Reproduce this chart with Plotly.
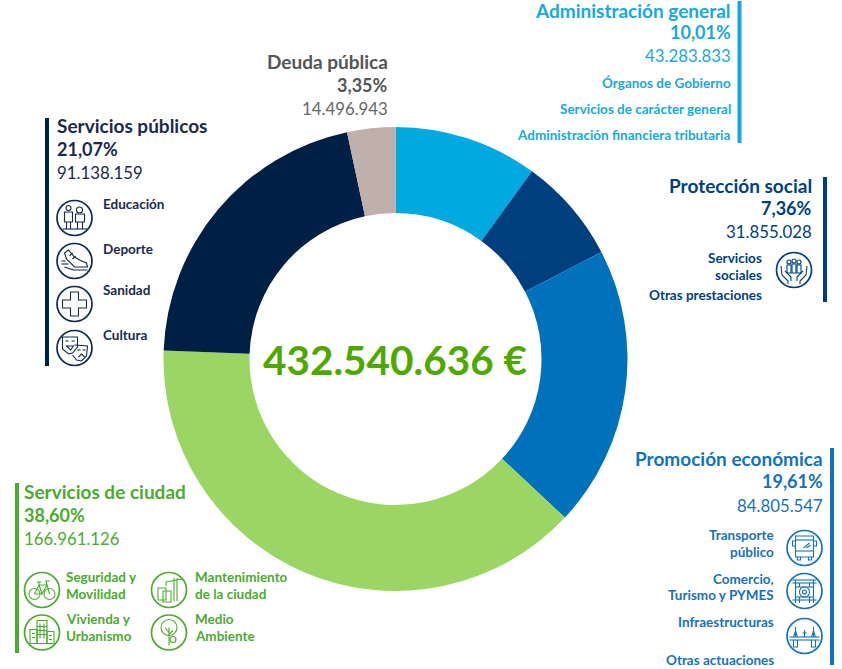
"""Distribución del presupuesto por áreas de gasto — donut con bloques de texto e iconos."""
from plotly import graph_objects as go

W, H = 842, 669
FONT = "Lato"

areas = ["Administración general", "Protección social", "Promoción económica",
         "Servicios de ciudad", "Servicios públicos", "Deuda pública"]
importes = [43283833, 31855028, 84805547, 166961126, 91138159, 14496943]
importes_txt = ["43.283.833", "31.855.028", "84.805.547", "166.961.126", "91.138.159", "14.496.943"]
porcentajes = ["10,01%", "7,36%", "19,61%", "38,60%", "21,07%", "3,35%"]
colores_sector = ["#00a9e0", "#003f7d", "#0072bc", "#9bd564", "#001f45", "#bfb0ac"]
colores_texto = ["#1aa7dc", "#003f7d", "#1672b8", "#4aab2f", "#1b2a4a", "#555555"]
total_txt = "432.540.636 €"

CX, CY, R_EXT, R_INT = 395.5, 359, 232, 146
T_CAB, T_IMP, T_SUB = 19, 16.8, 13.5

fig = go.Figure()
fig.add_trace(go.Pie(
    labels=areas, values=importes, sort=False, direction="clockwise", rotation=0,
    hole=R_INT / R_EXT, textinfo="none", hoverinfo="label+value+percent", showlegend=False,
    marker=dict(colors=colores_sector, line=dict(width=0)),
    domain=dict(x=[(CX - R_EXT) / W, (CX + R_EXT) / W], y=[1 - (CY + R_EXT) / H, 1 - (CY - R_EXT) / H]),
))

annotations, shapes = [], []


def txt(x, y, s, color, size=T_SUB, bold=False, anchor="left"):
    annotations.append(dict(x=x, y=y, text=f"<b>{s}</b>" if bold else s, showarrow=False, xref="x", yref="y",
                            xanchor=anchor, yanchor="middle", borderpad=0,
                            font=dict(family=FONT, size=size, color=color)))


def bloque(i, x, ys, anchor):
    txt(x, ys[0], areas[i], colores_texto[i], T_CAB, True, anchor)
    txt(x, ys[1], porcentajes[i], colores_texto[i], 18, True, anchor)
    txt(x, ys[2], importes_txt[i], colores_texto[i], T_IMP, False, anchor)


def barra(x, y0, y1, color):
    shapes.append(dict(type="rect", xref="x", yref="y", x0=x - 2, x1=x + 2, y0=y0, y1=y1,
                       fillcolor=color, line=dict(width=0)))


def circulo(cx, cy, r, color, ancho):
    shapes.append(dict(type="circle", xref="x", yref="y", x0=cx - r, x1=cx + r, y0=cy - r, y1=cy + r,
                       line=dict(color=color, width=ancho)))


def icono(cx, cy, color, trazos):
    # circulo exterior + dibujo simplificado, coordenadas relativas al centro
    circulo(cx, cy, 17.5, color, 1.7)
    for t in trazos:
        if isinstance(t, tuple):
            circulo(cx + t[0], cy + t[1], t[2], color, 1.1)
            continue
        partes = []
        for tok in t.split():
            if "," in tok:
                a, b = tok.split(",")
                partes.append(f"{cx + float(a)},{cy + float(b)}")
            else:
                partes.append(tok)
        shapes.append(dict(type="path", xref="x", yref="y", path=" ".join(partes), line=dict(color=color, width=1.1)))


MANOS = ["M -13,-4 L -12,5 L -6,11 L -6,14", "M 13,-4 L 12,5 L 6,11 L 6,14", "M -9,1 L -3,7 L -3,11", "M 9,1 L 3,7 L 3,11",
         (-5, -8, 2), (0, -9, 2), (5, -8, 2), "M -7,-5 L -7,3 L -3,3 L -3,-5 Z", "M -2,-6 L -2,3 L 2,3 L 2,-6 Z", "M 3,-5 L 3,3 L 7,3 L 7,-5 Z"]
BUS = ["M -9,-12 L 9,-12 L 9,9 L -9,9 Z", "M -9,-8 L 9,-8", "M -9,3 L 9,3", "M -7,9 L -7,12 L -4,12 L -4,9", "M 4,9 L 4,12 L 7,12 L 7,9",
       "M -9,-7 L -12,-7 L -12,-2 L -9,-2", "M 9,-7 L 12,-7 L 12,-2 L 9,-2", "M -1,0 L 5,-5", "M 2,0 L 6,-3"]
COMERCIO = ["M -12,-11 L 12,-11", "M -12,-8 L 12,-8", "M -9,-11 L -9,12", "M 9,-11 L 9,12", "M -12,9 L 12,9", "M -9,-4 L 9,-4", "M -9,6 L 9,6",
            (0, 1, 5), (0, 1, 2), "M -5,-8 L -5,-4", "M 5,-8 L 5,-4", "M -5,6 L -5,12", "M 5,6 L 5,12"]
PUENTE = ["M -15,1 L 15,1", "M -15,4 L 15,4", "M -9,-9 L -9,1", "M 9,-9 L 9,1", "M -11,1 L -9,-5 L -7,1", "M 7,1 L 9,-5 L 11,1",
          "M -11,4 L -11,11 L -7,11 L -7,4", "M 7,4 L 7,11 L 11,11 L 11,4", "M 0,-6 L 0,1", "M -2,-3 L 2,-3"]
BICI = [(-7.5, 4, 5.5), (7.5, 4, 5.5), "M -7.5,4 L -3,-5 L 5,-5 L 7.5,4", "M -7.5,4 L 0,4 L 5,-5", "M -3,-5 L 0,4",
        "M -5,-8 L -1,-8", "M -3,-8 L -3,-5", "M 5,-5 L 4,-9 L 8,-9"]
CIUDAD = ["M -5,-12 L 5,-12 L 5,11 L -5,11 Z", "M -12,-3 L -5,-3 L -5,11 L -12,11 Z", "M 5,-1 L 12,-1 L 12,11 L 5,11 Z",
          "M -2,-9 L -2,6", "M 2,-9 L 2,6", "M -5,-6 L 5,-6", "M -5,-2 L 5,-2", "M -5,2 L 5,2", "M -10,1 L -7,1", "M -10,5 L -7,5", "M 7,3 L 10,3", "M 7,7 L 10,7"]
OBRA = ["M -3,-8 L 13,-11", "M 5,-12 L 5,11", "M 8,-12 L 8,11", "M -3,-8 L -3,-4", "M -11,-2 L -3,-2 L -3,10 L -11,10 Z", "M -6,1 L 2,1 L 2,12 L -6,12 Z"]
ARBOL = [(0, -5, 8), "M 0,-5 L 0,13", "M 0,0 L -4,-5", "M 0,2 L 4,-2", (4, 7, 3)]
ESTUDIANTES = [(-6, -10, 2.5), "M -10,-6 L -2,-6 L -2,4 L -10,4 Z", "M -8,4 L -8,11", "M -4,4 L -4,11",
               (5, -8, 3), "M 1,-4 L 10,-4 L 10,4 L 1,4 Z", "M 3,4 L 3,11", "M 8,4 L 8,11", "M -12,11 L 13,11"]
ZAPATILLA = ["M -10,-8 L -6,-11 L 0,-4 L 5,-1 L 12,2 L 13,6 L 0,6 L -8,-2 Z", "M -13,3 L -6,3", "M -13,0 L -9,0", "M -10,6 L -1,9 L 13,9", "M -5,-5 L -2,-8", "M -2,-2 L 1,-5"]
CRUZ = ["M -4,-12 L 4,-12 L 4,-4 L 12,-4 L 12,4 L 4,4 L 4,12 L -4,12 L -4,4 L -12,4 L -12,-4 L -4,-4 Z"]
MASCARAS = ["M -12,-11 L 3,-11 L 3,-1 L -2,5 L -6,6 L -12,1 Z", "M 0,-3 L 13,-2 L 12,8 L 7,13 L 2,12 L -2,7", "M -9,-7 L -6,-7", "M -3,-7 L 0,-7",
            "M -8,-2 L -1,-2 L -4,2 Z", "M 3,2 L 6,2", "M 8,2 L 11,2", "M 4,9 L 7,6 L 10,9"]

# Administración general
i = 0
bloque(i, 732, [10, 31.5, 55], "right")
for y, s in zip([83, 109, 135], ["Órganos de Gobierno", "Servicios de carácter general", "Administración financiera tributaria"]):
    txt(732, y, s, colores_texto[i], T_SUB, True, "right")
barra(739.5, 1, 143, colores_texto[i])

# Protección social
i = 1
bloque(i, 813, [185, 207.5, 231], "right")
for y, s in zip([258, 275, 295], ["Servicios", "sociales", "Otras prestaciones"]):
    txt(763, y, s, colores_texto[i], T_SUB, True, "right")
barra(825, 177, 302, colores_sector[i])
icono(794, 270, colores_texto[i], MANOS)

# Promoción económica
i = 2
bloque(i, 824, [458, 480.5, 505], "right")
for y, s in zip([535, 552, 579, 595, 622, 660], ["Transporte", "público", "Comercio,", "Turismo y PYMES", "Infraestructuras", "Otras actuaciones"]):
    txt(775, y, s, colores_texto[i], T_SUB, True, "right")
barra(832, 448, 665, colores_texto[i])
icono(804.5, 548, colores_texto[i], BUS)
icono(804.5, 591, colores_texto[i], COMERCIO)
icono(804.5, 636, colores_texto[i], PUENTE)

# Servicios de ciudad
i = 3
bloque(i, 23, [491, 514.5, 538], "left")
for x, y, s in [(64.5, 577, "Seguridad y"), (64.5, 594, "Movilidad"), (64.5, 619, "Vivienda y"), (64.5, 636, "Urbanismo"),
                (193.5, 577, "Mantenimiento"), (193.5, 594, "de la ciudad"), (193.5, 619, "Medio"), (193.5, 636, "Ambiente")]:
    txt(x, y, s, colores_texto[i], T_SUB, True)
barra(17, 483, 653, colores_texto[i])
icono(42, 590, colores_texto[i], BICI)
icono(42, 632.5, colores_texto[i], CIUDAD)
icono(169, 590, colores_texto[i], OBRA)
icono(169, 632.5, colores_texto[i], ARBOL)

# Servicios públicos
i = 4
bloque(i, 55.5, [125, 148.5, 172], "left")
for y, s in zip([204, 249, 290, 335], ["Educación", "Deporte", "Sanidad", "Cultura"]):
    txt(101.5, y, s, colores_texto[i], T_SUB, True)
barra(47, 118, 366, colores_sector[i])
for y, ic in zip([218, 261, 304, 348], [ESTUDIANTES, ZAPATILLA, CRUZ, MASCARAS]):
    icono(74.5, y, "#12294d", ic)

# Deuda pública
i = 5
txt(389, 61, areas[i], colores_texto[i], T_CAB, True, "right")
txt(389, 84.5, porcentajes[i], colores_texto[i], 18, True, "right")
txt(389, 108, importes_txt[i], "#666666", T_IMP, False, "right")

# Total central
txt(395, 359, total_txt, "#4fa800", 40.5, True, "center")

fig.update_layout(
    width=W, height=H, margin=dict(l=0, r=0, t=0, b=0), paper_bgcolor="white", plot_bgcolor="rgba(0,0,0,0)",
    xaxis=dict(range=[0, W], visible=False, fixedrange=True, domain=[0, 1]),
    yaxis=dict(range=[H, 0], visible=False, fixedrange=True, domain=[0, 1]),
    annotations=annotations, shapes=shapes,
)
fig.write_html("out.html", post_script="document.body.style.margin='0';", config={"displayModeBar": False})
